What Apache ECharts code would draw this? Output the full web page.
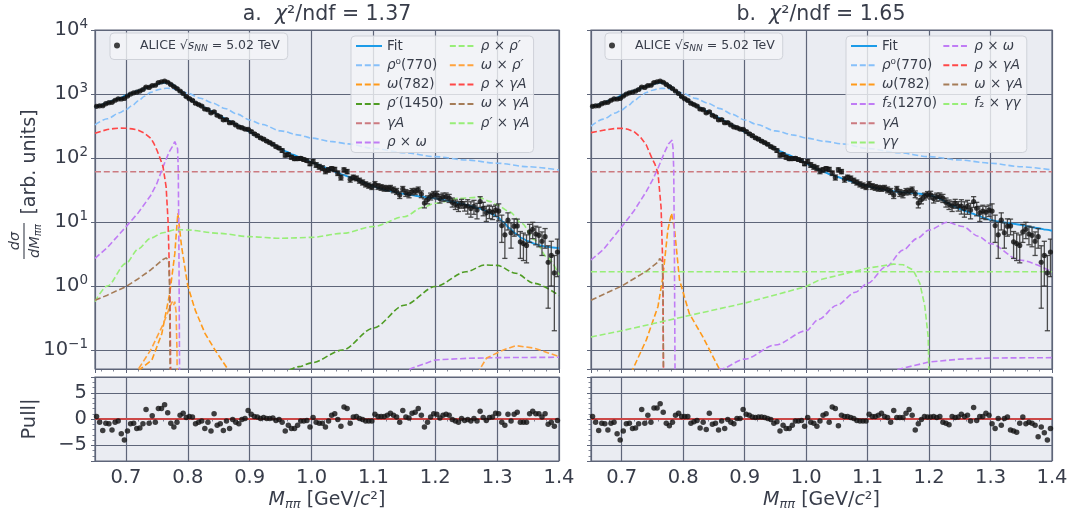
<!DOCTYPE html>
<html><head><meta charset="utf-8">
<script src="https://cdn.jsdelivr.net/npm/echarts@6/dist/echarts.min.js"></script>
<style>html,body{margin:0;padding:0;background:#fff}#c{width:1071px;height:518px}</style>
</head><body><div id="c"></div>
<script>
// ---------- bins (ALICE data, shared by both panels) ----------
const BIN_START = 0.6525, BIN_WIDTH = 0.005;
const dataY = [
643,654,658,705,731,742,798,839,836,854,
928,999,1045,1067,1113,1175,1287,1269,1356,1371,
1507,1549,1593,1527,1411,1309,1216,1114,1018,910,
845,795,718,684,647,583,568,508,528,466,
441,395,397,356,356,329,306,298,283,280,
259,239,223,207,197,184,174,164,151,143,
131,111,113,103,98,98,98.6,94.7,91.3,81.4,
88.1,78.0,73.0,69.7,62.5,65.3,68.1,66.4,58.0,49.7,
65.3,61.4,46.4,49.7,48.1,44.4,41.6,38.9,37.2,35.5,
38.9,36.0,34.8,33.8,33.5,34.0,31.9,30.2,26.4,32.8,
28.6,27.4,29.9,30.2,31.9,27.3,19.8,22.4,25.2,26.8,
26.5,23.4,24.7,24.9,23.6,20.4,18.9,17.8,19.5,17.8,
17.8,16.3,17.5,15.4,20.9,16.4,13.9,14.8,14.2,15.3,
14.8,8.8,6.3,10.7,6.8,8.6,8.7,4.9,4.6,4.3,
7.0,7.7,6.5,6.2,5.0,5.9,2.35,3.0,1.6,3.4];
const dataErr = [
12.7,13.2,13.8,14.3,14.9,15.5,16.2,16.9,17.7,18.6,
19,20,21,22,23,24,25,26,27,28,
36,37,37,37,36,34,31,27,25,23,
25,24,22,21,20,18,17,16,15,14.5,
16,15,14,13.3,12.5,11.8,11.1,10.5,9.9,9.3,
11.2,10.5,9.9,9.3,8.7,8.2,7.8,7.3,6.9,6.5,
8.2,7.7,7.3,7.0,6.6,6.3,6.1,5.8,5.6,5.4,
6.9,6.6,6.2,6.0,5.7,5.4,5.2,4.9,4.7,4.5,
4.9,4.7,4.5,4.3,4.1,4.0,3.8,3.6,3.5,3.3,
3.9,3.7,3.6,3.5,3.4,3.3,3.3,3.2,3.1,3.1,
3.5,3.5,3.4,3.4,3.3,3.3,3.2,3.2,3.1,3.1,
3.7,3.6,3.6,3.5,3.4,3.3,3.2,3.2,3.1,3.0,
4.5,4.4,4.3,4.2,4.0,3.9,3.7,3.5,3.3,3.1,
4.4,4.0,3.6,3.2,2.9,2.6,2.4,2.2,2.1,2.0,
2.2,2.2,2.1,2.1,2.0,2.0,1.9,2.0,1.4,2.0];
const pullA = [
0.5,-0.6,-2.2,-0.8,-0.9,-2.1,-0.6,-0.4,-2.8,-4.0,
-2.3,-0.9,-0.8,-1.8,-1.7,-0.9,1.8,-0.8,0.6,-0.6,
2.0,2.0,2.7,1.2,-0.8,-1.5,-0.6,0.7,1.1,0.3,
0.5,0.4,-0.9,-0.6,-0.4,-1.8,-0.6,-2.3,1.0,-1.2,
-0.9,-2.2,-0.4,-1.8,-0.1,-0.6,-0.9,-0.1,0.1,1.6,
0.9,0.5,0.4,0.1,0.3,0.1,0.1,0.2,-0.3,-0.1,
-0.6,-2.3,-1.2,-1.8,-1.8,-1.2,-0.4,-0.4,-0.3,-1.5,
0.3,-0.6,-0.8,-0.8,-1.5,-0.4,0.7,1.0,-0.1,-1.4,
2.3,2.0,-0.8,0.4,0.5,0.1,-0.1,-0.4,-0.4,-0.4,
0.9,0.5,0.5,0.5,0.7,1.1,0.7,0.4,-0.6,1.6,
0.4,0.2,1.1,1.3,2.0,0.7,-1.5,-0.6,0.4,1.0,
0.9,0.2,0.7,0.9,0.7,-0.1,-0.4,-0.6,0.1,-0.3,
-0.1,-0.4,0.1,-0.4,1.5,0.3,-0.3,0.3,0.4,1.1,
1.0,-0.6,-1.2,0.9,-0.4,0.9,1.3,-0.6,-0.6,-0.6,
1.0,1.5,1.0,1.0,0.4,1.0,-1.0,-0.6,-1.4,-0.3];
const pullB = [
0.5,-0.6,-2.2,-0.8,-0.9,-2.1,-0.8,-0.6,-2.8,-4.0,
-2.3,-0.9,-0.8,-1.8,-1.7,-0.9,1.8,-0.8,0.7,-0.6,
2.1,2.1,2.9,1.3,-0.8,-1.3,-0.6,0.7,1.1,0.5,
0.5,0.5,-0.8,-0.5,-0.3,-1.7,-0.6,-2.0,1.1,-1.0,
-0.8,-2.1,-0.4,-1.8,-0.1,-0.6,-0.9,0.1,0.1,1.8,
0.9,0.7,0.4,0.3,0.4,0.4,0.3,0.1,-0.1,-0.8,
-0.5,-2.3,-1.2,-1.8,-1.8,-1.2,-0.4,-0.4,-0.3,-1.4,
0.3,-0.6,-0.8,-1.4,-0.4,0.7,1.0,-0.6,2.3,2.0,
-1.3,0.7,0.5,0.5,0.3,0.1,-0.3,-0.4,-0.4,-0.4,
0.9,0.5,0.5,0.7,1.1,0.5,0.3,-0.6,1.6,0.3,
0.3,0.3,1.1,1.8,0.7,-2.1,-0.9,-0.1,0.5,0.4,
0.4,0.5,0.3,0.5,-0.6,-0.8,-1.1,0.5,0.3,0.4,
0.9,0.5,0.7,-0.4,2.2,-0.3,0.5,0.5,1.1,0.7,
-0.9,-1.8,0.1,-1.2,0.1,0.4,-2.1,-2.3,-2.5,-0.8,
0.4,-0.9,-0.6,-0.8,-1.2,-3.4,-1.5,-2.6,-4.0,-1.8];

// ---------- fit curves ----------
const fitLow = [[0.65,625],[0.66,675],[0.67,730],[0.68,790],[0.69,865],[0.70,950],[0.71,1040],[0.72,1130],[0.73,1220],[0.74,1320],[0.75,1410],[0.755,1460],[0.76,1490],[0.765,1495],[0.77,1470],[0.775,1410],[0.78,1310],[0.785,1160],[0.79,1030],[0.80,860],[0.81,760],[0.82,675],[0.83,595],[0.84,528],[0.85,468],[0.86,415],[0.87,368],[0.88,326],[0.89,290],[0.90,257],[0.91,226],[0.92,200],[0.93,178],[0.94,158],[0.95,140],[0.96,125],[0.97,113],[0.98,103],[0.99,94]];
const fitHighA = [[1.00,86],[1.01,79],[1.02,72],[1.03,66],[1.04,60],[1.05,55],[1.06,51],[1.07,47],[1.08,43],[1.09,39.5],[1.10,36],[1.11,33.5],[1.12,31.5],[1.13,30],[1.14,28.5],[1.15,27.5],[1.16,26.5],[1.17,25.5],[1.18,24.8],[1.19,24.2],[1.20,23.5],[1.21,22.5],[1.22,21.5],[1.23,20.5],[1.24,19.5],[1.25,18.5],[1.26,17.5],[1.27,16.5],[1.28,15.2],[1.29,13.6],[1.30,12.1],[1.31,10.0],[1.32,8.0],[1.33,6.6],[1.34,5.6],[1.35,5.0],[1.36,4.6],[1.37,4.3],[1.38,4.1],[1.39,4.0],[1.40,3.9]];
const fitHighB = [[1.00,82],[1.01,74],[1.02,66],[1.03,60],[1.04,55],[1.05,51],[1.06,47.5],[1.07,44],[1.08,41],[1.09,38.5],[1.10,36.2],[1.11,34.4],[1.12,32.8],[1.13,31.5],[1.14,30.4],[1.15,29.6],[1.16,29],[1.17,28.5],[1.18,28],[1.19,27.4],[1.20,26.5],[1.21,24.9],[1.22,22.5],[1.23,19.8],[1.24,17.6],[1.25,16],[1.26,14.7],[1.27,13.6],[1.28,12.6],[1.29,11.6],[1.30,10.8],[1.31,10.3],[1.32,9.9],[1.33,9.6],[1.34,9.3],[1.35,9.0],[1.36,8.6],[1.37,8.2],[1.38,7.9],[1.39,7.6],[1.40,7.3]];

// ---------- panel a components ----------
const rho0A = [[0.65,330],[0.67,410],[0.69,510],[0.70,570],[0.71,660],[0.72,780],[0.73,920],[0.74,1060],[0.75,1150],[0.76,1215],[0.765,1230],[0.77,1225],[0.78,1180],[0.79,1105],[0.80,1025],[0.82,860],[0.84,725],[0.86,595],[0.88,485],[0.90,393],[0.92,335],[0.95,265],[0.98,228],[1.00,205],[1.03,182],[1.06,166],[1.10,141],[1.15,121],[1.20,105],[1.25,93],[1.30,83],[1.35,73],[1.40,65]];
const omegaA = [[0.70,0.03],[0.723,0.05],[0.742,0.07],[0.758,0.18],[0.771,0.79],[0.779,3.2],[0.782,8],[0.784,13.7],[0.786,9],[0.79,4.1],[0.80,1.0],[0.812,0.42],[0.828,0.18],[0.844,0.1],[0.863,0.053],[0.88,0.03]];
const rhoPrimeA = [[0.94,0.035],[0.96,0.048],[0.98,0.055],[1.00,0.063],[1.05,0.1],[1.10,0.22],[1.15,0.5],[1.20,0.98],[1.25,1.67],[1.28,2.13],[1.30,2.1],[1.33,1.58],[1.36,1.1],[1.40,0.71]];
const gammaA_A = [[0.65,61],[1.40,61]];
const rhoOmegaA_low = [[0.65,2.7],[0.67,4.0],[0.70,8.4],[0.72,14],[0.74,26],[0.75,40],[0.76,73],[0.77,125],[0.775,151],[0.779,180],[0.782,191],[0.7835,140],[0.7846,65],[0.7857,3.2],[0.7868,0.03]];
const rhoOmegaA_high = [[1.14,0.03],[1.16,0.051],[1.20,0.07],[1.25,0.074],[1.30,0.076],[1.40,0.077]];
const rhoRhoPrimeA = [[0.65,0.57],[0.67,1.0],[0.70,2.26],[0.72,3.8],[0.74,5.6],[0.76,6.8],[0.78,7.6],[0.80,7.5],[0.85,6.65],[0.90,5.9],[0.95,5.56],[1.00,5.75],[1.05,6.65],[1.10,8.5],[1.15,12.1],[1.18,17],[1.20,19.6],[1.24,23.5],[1.27,24.3],[1.29,20.8],[1.30,18.4],[1.32,14.5],[1.34,9.5],[1.36,5.3],[1.38,2.87],[1.40,1.5]];
const omegaRhoPrimeA_low = [[0.705,0.03],[0.72,0.05],[0.74,0.1],[0.76,0.25],[0.772,0.5],[0.775,0.57],[0.777,0.5],[0.779,0.57],[0.781,0.4],[0.7825,0.1],[0.783,0.03]];
const omegaRhoPrimeA_high = [[1.265,0.03],[1.272,0.05],[1.283,0.075],[1.31,0.1],[1.33,0.117],[1.36,0.107],[1.40,0.079]];
const rhoGammaA_A = [[0.65,243],[0.66,262],[0.67,278],[0.68,288],[0.69,293],[0.70,292],[0.71,285],[0.72,272],[0.73,245],[0.74,204],[0.745,170],[0.75,133],[0.755,100],[0.76,73],[0.765,35],[0.768,10.7],[0.771,1.0],[0.7725,0.03]];
const omegaGammaA_A = [[0.65,0.6],[0.67,0.72],[0.70,0.98],[0.72,1.3],[0.74,1.78],[0.76,2.6],[0.765,2.75],[0.769,2.5],[0.7705,1.0],[0.7715,0.03]];
const rhoPrimeGammaA_A = [];

// ---------- panel b components ----------
const rho0B = [[0.65,315],[0.67,405],[0.69,505],[0.70,565],[0.71,655],[0.72,775],[0.73,915],[0.74,1055],[0.75,1145],[0.76,1210],[0.765,1225],[0.77,1220],[0.78,1175],[0.79,1100],[0.80,1020],[0.82,855],[0.84,720],[0.86,590],[0.88,482],[0.90,392],[0.92,334],[0.95,265],[0.98,228],[1.00,205],[1.03,182],[1.06,166],[1.10,141],[1.15,121],[1.20,105],[1.25,93],[1.30,83],[1.35,73],[1.40,65]];
const omegaB = [[0.70,0.025],[0.718,0.05],[0.74,0.144],[0.759,0.48],[0.767,1.4],[0.775,7.5],[0.781,13.7],[0.786,7.5],[0.794,1.24],[0.81,0.37],[0.832,0.16],[0.859,0.05],[0.875,0.03]];
const f2B = [[0.84,0.03],[0.86,0.05],[0.90,0.072],[0.95,0.12],[1.00,0.2],[1.02,0.3],[1.05,0.5],[1.08,0.8],[1.10,1.1],[1.13,2.0],[1.158,3.66],[1.18,5.5],[1.20,7.5],[1.23,9.9],[1.255,8.5],[1.28,6.0],[1.30,4.6],[1.347,2.55],[1.40,1.67]];
const gammaA_B = [[0.65,61],[1.40,61]];
const gammaGammaB = [[0.65,1.67],[1.40,1.67]];
const rhoOmegaB_low = [[0.65,2.55],[0.67,3.7],[0.70,8.4],[0.72,15],[0.74,30],[0.75,45],[0.76,73],[0.77,125],[0.776,165],[0.782,191],[0.7835,140],[0.7846,65],[0.7857,3.2],[0.7868,0.03]];
const rhoOmegaB_high = [[1.13,0.03],[1.15,0.05],[1.20,0.065],[1.25,0.072],[1.30,0.075],[1.40,0.076]];
const rhoGammaA_B = [[0.65,249],[0.67,272],[0.69,290],[0.70,291],[0.71,282],[0.72,258],[0.73,215],[0.74,160],[0.748,105],[0.754,80],[0.759,58],[0.764,17],[0.767,1.8],[0.768,0.03]];
const omegaGammaA_B = [[0.65,0.6],[0.70,1.0],[0.74,1.7],[0.76,2.4],[0.7616,2.7],[0.764,2.6],[0.766,2.4],[0.767,1.0],[0.768,0.03]];
const f2GammaGammaB = [[0.65,0.16],[0.70,0.2],[0.80,0.33],[0.90,0.54],[1.00,0.98],[1.022,1.25],[1.10,1.9],[1.142,2.2],[1.158,2.15],[1.174,1.78],[1.185,1.1],[1.193,0.49],[1.1986,0.16],[1.2,0.03]];

// ---------- text ----------
const titleA = 'a.  {i|χ}²/ndf = 1.37';
const titleB = 'b.  {i|χ}²/ndf = 1.65';
const aliceLabel = 'ALICE √{i|s}{sub|NN} = 5.02 TeV';
const xTickDecimals = 1;

// ---------- style ----------
const FONT = 'DejaVu Sans';
const TXT = '#383d4a';
const GRIDC = '#5e6579';
const BG = '#eaecf2';
const DASH = [6, 2.8];
const C = {
  fit:'#1c9be8', rho0:'#86c0fa', omega:'#ff9a1a', rhoP:'#4f9c24', gA:'#cc7a80',
  rw:'#c07cf5', rrp:'#98ee78', wrp:'#ffa33d', rgA:'#ff4747', wgA:'#a57c58', rpgA:'#98ee78',
  f2:'#c07cf5', gg:'#98ee78', f2gg:'#98ee78'
};

const centers = dataY.map((_, i) => +(BIN_START + i * BIN_WIDTH).toFixed(4));
const dataPts = centers.map((x, i) => [x, dataY[i], dataErr[i]]);
const pullPtsA = centers.map((x, i) => [x, pullA[i]]);
const pullPtsB = centers.map((x, i) => [x, pullB[i]]);

const legendLabels = {
  'Fit':'Fit', 'rho0':'{i|ρ}⁰(770)', 'omega':'{i|ω}(782)', 'rhoP':'{i|ρ′}(1450)', 'gA':'{i|γA}',
  'rw':'{i|ρ} × {i|ω}', 'rrp':'{i|ρ} × {i|ρ′}', 'wrp':'{i|ω} × {i|ρ′}', 'rgA':'{i|ρ} × {i|γA}',
  'wgA':'{i|ω} × {i|γA}', 'rpgA':'{i|ρ′} × {i|γA}', 'f2':'{i|f}₂(1270)', 'gg':'{i|γγ}', 'f2gg':'{i|f}₂ × {i|γγ}',
  'ALICE': aliceLabel
};

function dashed(name, data, color, xi, smooth) {
  return { type:'line', name, data, xAxisIndex:xi, yAxisIndex:xi, showSymbol:false, symbol:'none',
    smooth: smooth ? 0.3 : false, smoothMonotone:'x', connectNulls:false, clip:true, silent:true,
    lineStyle:{color, width:1.6, type:DASH}, itemStyle:{color}, z:2 };
}
function joinParts(a, b) { return a.concat([[ (a[a.length-1][0]+b[0][0])/2, '-' ]], b); }

function errRender(params, api) {
  const x = api.value(0), y = api.value(1), e = api.value(2);
  const lo = api.coord([x, y - e]), hi = api.coord([x, y + e]);
  const cap = 2.6;
  const style = { stroke:'#303030', lineWidth:1.3, opacity:0.85 };
  return { type:'group', children:[
    {type:'line', shape:{x1:lo[0], y1:lo[1], x2:hi[0], y2:hi[1]}, style},
    {type:'line', shape:{x1:lo[0]-cap, y1:lo[1], x2:lo[0]+cap, y2:lo[1]}, style},
    {type:'line', shape:{x1:hi[0]-cap, y1:hi[1], x2:hi[0]+cap, y2:hi[1]}, style}
  ]};
}

function panelSeries(p, xi, pi) {
  const s = [];
  if (p === 'a') {
    s.push(dashed('a:rho0', rho0A, C.rho0, xi, true));
    s.push(dashed('a:omega', omegaA, C.omega, xi, false));
    s.push(dashed('a:rhoP', rhoPrimeA, C.rhoP, xi, true));
    s.push(dashed('a:gA', gammaA_A, C.gA, xi, false));
    s.push(dashed('a:rw', joinParts(rhoOmegaA_low, rhoOmegaA_high), C.rw, xi, false));
    s.push(dashed('a:rrp', rhoRhoPrimeA, C.rrp, xi, true));
    s.push(dashed('a:wrp', joinParts(omegaRhoPrimeA_low, omegaRhoPrimeA_high), C.wrp, xi, false));
    s.push(dashed('a:rgA', rhoGammaA_A, C.rgA, xi, false));
    s.push(dashed('a:wgA', omegaGammaA_A, C.wgA, xi, false));
    s.push(dashed('a:rpgA', rhoPrimeGammaA_A, C.rpgA, xi, false));
  } else {
    s.push(dashed('b:rho0', rho0B, C.rho0, xi, true));
    s.push(dashed('b:omega', omegaB, C.omega, xi, false));
    s.push(dashed('b:f2', f2B, C.f2, xi, true));
    s.push(dashed('b:gA', gammaA_B, C.gA, xi, false));
    s.push(dashed('b:gg', gammaGammaB, C.gg, xi, false));
    s.push(dashed('b:rw', joinParts(rhoOmegaB_low, rhoOmegaB_high), C.rw, xi, false));
    s.push(dashed('b:rgA', rhoGammaA_B, C.rgA, xi, false));
    s.push(dashed('b:wgA', omegaGammaA_B, C.wgA, xi, false));
    s.push(dashed('b:f2gg', f2GammaGammaB, C.f2gg, xi, false));
  }
  s.push({ type:'line', name:p+':Fit', data: fitLow.concat(p === 'a' ? fitHighA : fitHighB),
    xAxisIndex:xi, yAxisIndex:xi, showSymbol:false, symbol:'none', smooth:0.3, smoothMonotone:'x',
    lineStyle:{color:C.fit, width:1.9}, itemStyle:{color:C.fit}, z:3, silent:true });
  s.push({ type:'custom', name:p+':err', data:dataPts, xAxisIndex:xi, yAxisIndex:xi,
    renderItem:errRender, encode:{x:0, y:1}, clip:true, z:4, silent:true });
  s.push({ type:'scatter', name:p+':ALICE', data:dataPts.map(d => [d[0], d[1]]), xAxisIndex:xi, yAxisIndex:xi,
    symbol:'circle', symbolSize:5.2, itemStyle:{color:'#111'}, z:5, silent:true });
  s.push({ type:'scatter', name:p+':pull', data: p === 'a' ? pullPtsA : pullPtsB, xAxisIndex:pi, yAxisIndex:pi,
    symbol:'circle', symbolSize:5.5, itemStyle:{color:'#111'}, z:5, silent:true,
    markLine:{ silent:true, symbol:'none', label:{show:false}, data:[{yAxis:0}],
      lineStyle:{color:'#cc4848', width:2, type:'solid'}, animation:false } });
  return s;
}

const axisTickStyle = { show:true, inside:false, length:4, lineStyle:{color:GRIDC, width:1} };
const minorTickX = { show:true, splitNumber:5, length:2.5, lineStyle:{color:GRIDC, width:0.8} };
function xAx(grid, labels) {
  return { type:'value', gridIndex:grid, min:0.65, max:1.4, splitNumber:7,
    axisLine:{show:false}, axisTick:axisTickStyle, minorTick:minorTickX,
    splitLine:{show:true, lineStyle:{color:GRIDC, width:1.2}},
    axisLabel: labels ? { show:true, margin:7, fontSize:19.5, fontFamily:FONT, color:TXT, showMinLabel:false,
      formatter: v => v.toFixed(xTickDecimals) } : {show:false},
    name: labels ? '{i|M}{sub|ππ} [GeV/{i|c}²]' : '', nameLocation:'middle', nameGap:28,
    nameTextStyle:{ fontSize:19, fontFamily:FONT, color:TXT,
      rich:{ i:{fontSize:19, fontStyle:'italic', fontFamily:FONT, color:TXT},
             sub:{fontSize:13, fontStyle:'italic', fontFamily:FONT, color:TXT, padding:[9,0,0,0]} } } };
}
function yLog(grid, labels) {
  return { type:'log', logBase:10, gridIndex:grid, min:0.0505, max:10000,
    axisLine:{show:false}, axisTick:axisTickStyle,
    splitLine:{show:true, lineStyle:{color:GRIDC, width:1.2}},
    axisLabel: labels ? { show:true, margin:7, showMinLabel:false, showMaxLabel:true, color:TXT,
      formatter: v => { const e = Math.round(Math.log10(v)); return '{b|10}{s|' + (e < 0 ? '−' + (-e) : e) + '}'; },
      rich:{ b:{fontSize:19.5, fontFamily:FONT, color:TXT}, s:{fontSize:13.5, fontFamily:FONT, color:TXT, padding:[0,0,12,0]} } } : {show:false} };
}
function yPull(grid, labels) {
  return { type:'value', gridIndex:grid, min:-8, max:8, splitNumber:3,
    axisLine:{show:false}, axisTick:axisTickStyle,
    minorTick:{show:true, splitNumber:5, length:2.5, lineStyle:{color:GRIDC, width:0.8}},
    splitLine:{show:true, lineStyle:{color:GRIDC, width:1.2}},
    axisLabel: labels ? { show:true, margin:8, fontSize:19.5, fontFamily:FONT, color:TXT, showMinLabel:false, showMaxLabel:false,
      formatter: v => v < 0 ? '−' + (-v) : String(v) } : {show:false} };
}
const gridBase = { show:true, backgroundColor:BG, borderColor:GRIDC, borderWidth:1.2, containLabel:false, outerBoundsMode:'none' };

const legendText = { fontSize:13.5, fontFamily:FONT, color:TXT, width:77,
  rich:{ i:{fontSize:13.5, fontStyle:'italic', fontFamily:FONT, color:TXT},
         sub:{fontSize:9.5, fontStyle:'italic', fontFamily:FONT, color:TXT, padding:[7,0,0,0]} } };
const legendBox = { backgroundColor:'rgba(244,245,248,0.8)', borderColor:'#cfd2d9', borderWidth:1, borderRadius:4, selectedMode:false };
const fmtLegend = n => legendLabels[n.split(':')[1]];

function mainLegend(p, left) {
  const keys = p === 'a' ? ['Fit','rho0','omega','rhoP','gA','rw','rrp','wrp','rgA','wgA','rpgA']
                         : ['Fit','rho0','omega','f2','gA','gg','rw','rgA','wgA','f2gg'];
  return Object.assign({}, legendBox, { orient:'vertical', left, top:36, height:112, padding:[3,4,3,4],
    itemWidth:26, itemHeight:14, itemGap:5.3, itemStyle:{opacity:0, borderWidth:0},
    data: keys.map(k => p + ':' + k), formatter: fmtLegend, textStyle: legendText });
}
function dataLegend(p, left) {
  return Object.assign({}, legendBox, { orient:'horizontal', left, top:33, padding:[6,8,6,4],
    itemWidth:26, itemHeight:6, data:[{name:p + ':ALICE', icon:'circle'}], formatter: fmtLegend,
    textStyle: Object.assign({}, legendText, {fontSize:12.5, width:null, padding:[0,0,0,5],
      rich:{ i:{fontSize:12.5, fontStyle:'italic', fontFamily:FONT, color:TXT},
             sub:{fontSize:9, fontStyle:'italic', fontFamily:FONT, color:TXT, padding:[7,0,0,0]} } }) });
}

const option = {
  animation:false,
  backgroundColor:'#ffffff',
  grid:[
    Object.assign({left:95, top:30, width:464, height:339}, gridBase),
    Object.assign({left:95, top:377, width:464, height:84}, gridBase),
    Object.assign({left:591, top:30, width:461, height:339}, gridBase),
    Object.assign({left:591, top:377, width:461, height:84}, gridBase)
  ],
  xAxis:[ xAx(0,false), xAx(1,true), xAx(2,false), xAx(3,true) ],
  yAxis:[ yLog(0,true), yPull(1,true), yLog(2,false), yPull(3,false) ],
  legend:[ dataLegend('a',110), mainLegend('a',351), dataLegend('b',605), mainLegend('b',846) ],
  series: panelSeries('a',0,1).concat(panelSeries('b',2,3)),
  graphic:[
    { type:'text', x:327, y:15, style:{ text:titleA, align:'center', verticalAlign:'middle', fill:TXT,
      font:'20.5px "DejaVu Sans"', rich:{ i:{fontStyle:'italic', fontSize:20.5, fontFamily:FONT, fill:TXT} } } },
    { type:'text', x:821, y:15, style:{ text:titleB, align:'center', verticalAlign:'middle', fill:TXT,
      font:'20.5px "DejaVu Sans"', rich:{ i:{fontStyle:'italic', fontSize:20.5, fontFamily:FONT, fill:TXT} } } },
    { type:'group', x:30, y:199, rotation:Math.PI/2, children:[
      { type:'text', x:37, y:0, style:{ text:'[arb. units]', align:'center', verticalAlign:'middle', fill:TXT, font:'19px "DejaVu Sans"' } },
      { type:'text', x:-42, y:-15, style:{ text:'dσ', align:'center', verticalAlign:'middle', fill:TXT, font:'italic 14.5px "DejaVu Sans"' } },
      { type:'line', shape:{x1:-60, y1:-6, x2:-24, y2:-6}, style:{ stroke:TXT, lineWidth:1.1 } },
      { type:'text', x:-42, y:5, style:{ text:'{i|dM}{s|ππ}', align:'center', verticalAlign:'middle', fill:TXT,
        rich:{ i:{fontStyle:'italic', fontSize:14.5, fontFamily:FONT, fill:TXT}, s:{fontStyle:'italic', fontSize:10, fontFamily:FONT, fill:TXT, padding:[6,0,0,0]} } } }
    ]},
    { type:'text', x:30, y:419, rotation:Math.PI/2, style:{ text:'Pull|', align:'center', verticalAlign:'middle', fill:TXT, font:'19.5px "DejaVu Sans"' } }
  ]
};
const chart = echarts.init(document.getElementById('c'), null, {renderer:'canvas'});
chart.setOption(option);
</script>
</body></html>
